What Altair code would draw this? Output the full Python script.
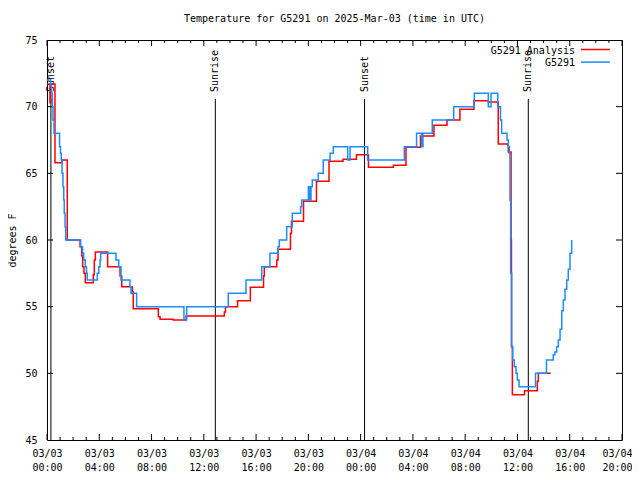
import altair as alt
import pandas as pd

# hours since 2025-03-03 00:00 UTC
blue_hours = [0.00, 0.28, 0.34, 0.41, 0.46, 0.54, 0.96, 1.03, 1.09, 1.15, 1.22, 1.28, 1.32, 1.38, 1.43,
              2.58, 2.72, 2.81, 2.93, 3.02, 3.08, 3.85, 3.96, 4.06, 4.11, 5.28, 5.49, 5.66, 6.35, 6.43,
              6.86, 10.48, 10.69, 13.87, 15.23, 16.43, 17.06, 17.68, 17.78, 18.34, 18.77, 19.41, 19.49,
              20.00, 20.10, 20.20, 20.30, 20.76, 21.14, 21.66, 21.91, 23.01, 23.19, 24.54, 27.34, 28.28,
              28.67, 28.77, 29.48, 31.12, 32.70, 33.77, 33.98, 34.49, 34.70, 34.79, 35.20, 35.30, 35.38,
              35.43, 35.48, 35.56, 35.64, 35.76, 35.89, 35.99, 36.12, 37.38, 38.22, 38.74, 38.87, 39.00,
              39.13, 39.26, 39.39, 39.51, 39.64, 39.77, 39.89, 40.02, 40.15]
blue_temps = [72.0, 71.6, 71.0, 70.0, 69.0, 68.0, 67.0, 66.5, 66.0, 65.0, 64.0, 63.0, 62.0, 61.0, 60.0,
              59.5, 59.0, 58.5, 58.0, 57.5, 57.0, 57.5, 58.0, 58.5, 59.0, 58.5, 58.0, 57.0, 56.5, 56.0,
              55.0, 54.0, 55.0, 56.0, 57.0, 58.0, 59.0, 59.5, 60.0, 61.0, 62.0, 62.5, 63.0,
              64.0, 63.0, 64.0, 64.5, 65.0, 66.0, 66.5, 67.0, 66.0, 67.0, 66.0, 67.0, 68.0,
              67.0, 68.0, 69.0, 70.0, 71.0, 70.0, 71.0, 70.0, 69.0, 68.0, 67.5, 67.0, 66.5,
              63.0, 57.5, 52.0, 51.0, 50.5, 50.0, 49.5, 49.0, 50.0, 51.0, 51.4, 51.6, 52.0,
              52.5, 53.3, 54.7, 55.5, 56.3, 57.0, 57.8, 59.0, 60.0]

red_hours = [0.00, 0.23, 0.29, 0.61, 1.15, 1.55, 2.53, 2.66, 2.73, 2.83, 2.93, 3.54, 3.62, 3.70, 4.64,
             5.59, 5.72, 6.53, 6.60, 8.52, 8.65, 9.66, 10.64, 13.57, 13.66, 14.58, 15.56, 16.57, 16.63,
             17.58, 17.68, 18.63, 18.71, 19.63, 20.62, 21.58, 22.65, 23.68, 24.60, 26.51, 27.47, 28.58,
             29.61, 30.61, 31.60, 32.67, 33.77, 34.53, 35.30, 35.51, 35.54, 35.61, 36.54, 37.52, 37.60,
             38.54]
red_temps = [71.7, 70.3, 71.7, 65.8, 66.0, 60.0, 59.5, 58.8, 58.0, 57.5, 56.8, 57.4, 58.5, 59.1, 58.0,
             57.3, 56.5, 56.1, 54.85, 54.25, 54.05, 54.0, 54.3, 54.6, 55.0, 55.45, 56.45, 57.3, 58.0,
             58.5, 59.3, 60.5, 61.4, 62.9, 64.4, 65.9, 66.05, 66.4, 65.45, 65.6, 66.95, 67.8,
             68.6, 69.0, 69.8, 70.45, 70.35, 67.2, 66.6, 60.0, 52.0, 48.4, 48.7, 49.4, 50.0,
             50.0]

sun_hours = [0.30, 12.88, 24.30, 36.83]
sun_labels = ["Sunset", "Sunrise", "Sunset", "Sunrise"]

x_major = list(range(0, 45, 4))
x_minor = [h for h in range(0, 45) if h % 4]
y_major = [45, 50, 55, 60, 65, 70, 75]

series_names = ["G5291 Analysis", "G5291"]
series_colors = ["#ff0000", "#1a8cff"]

FONT = "DejaVu Sans Mono"
W, H = 575, 400

xscale = alt.Scale(domain=[0, 44], nice=False, zero=False)
yscale = alt.Scale(domain=[45, 75], nice=False, zero=False)

x_axis = alt.Axis(
    values=x_major, title=None, ticks=False, domain=False, grid=False,
    labelExpr="[datum.value < 24 ? '03/03' : '03/04', (datum.value % 24 < 10 ? '0' : '') + (datum.value % 24) + ':00']",
    labelFont=FONT, labelFontSize=10, labelColor="black", labelPadding=8,
    labelBaseline="top", labelLineHeight=14, labelAlign="center",
    labelFlush=False, labelOverlap=False,
    labelOffset={"condition": {"test": "datum.value >= 44", "value": -5}, "value": 0},
)
y_axis = alt.Axis(
    values=y_major, title="degrees F", ticks=False, domain=False, grid=False,
    labelFont=FONT, labelFontSize=10, labelColor="black", labelPadding=10,
    titleFont=FONT, titleFontSize=10, titleFontWeight="normal", titleColor="black",
    titleX=-35, titleY=200, titleAngle=270, titleAlign="center", titleBaseline="middle",
)

X = alt.X("h:Q", scale=xscale, axis=x_axis)
Y = alt.Y("t:Q", scale=yscale, axis=y_axis)

red_df = pd.DataFrame({"h": red_hours, "t": red_temps})
blue_df = pd.DataFrame({"h": blue_hours, "t": blue_temps})
sun_df = pd.DataFrame({"h": sun_hours, "label": sun_labels})
major_df = pd.DataFrame({"h": x_major})
minor_df = pd.DataFrame({"h": x_minor})
ytick_df = pd.DataFrame({"t": y_major[1:-1]})
one = pd.DataFrame({"a": [0]})

red = alt.Chart(red_df).mark_line(interpolate="step-after", color=series_colors[0], strokeWidth=1.5).encode(x=X, y=Y)
blue = alt.Chart(blue_df).mark_line(interpolate="step-after", color=series_colors[1], strokeWidth=1.5).encode(x=X, y=Y)

sun_rule = alt.Chart(sun_df).mark_rule(color="black", strokeWidth=1).encode(x=X, y=alt.value(59), y2=alt.value(H))
sun_text = alt.Chart(sun_df).mark_text(angle=270, align="left", baseline="middle", font=FONT, fontSize=10, color="black").encode(
    x=X, y=alt.value(52), text="label:N")

tick_layers = [
    alt.Chart(major_df).mark_rule(color="black").encode(x=X, y=alt.value(H), y2=alt.value(H - 6)),
    alt.Chart(major_df).mark_rule(color="black").encode(x=X, y=alt.value(0), y2=alt.value(6)),
    alt.Chart(minor_df).mark_rule(color="black").encode(x=X, y=alt.value(H), y2=alt.value(H - 3)),
    alt.Chart(minor_df).mark_rule(color="black").encode(x=X, y=alt.value(0), y2=alt.value(3)),
    alt.Chart(ytick_df).mark_rule(color="black").encode(y=Y, x=alt.value(0), x2=alt.value(6)),
    alt.Chart(ytick_df).mark_rule(color="black").encode(y=Y, x=alt.value(W), x2=alt.value(W - 6)),
]

legend_layers = []
for i, (name, col) in enumerate(zip(series_names, series_colors)):
    yy = 10.5 + 12.6 * i
    legend_layers.append(
        alt.Chart(one).mark_text(text=name, align="right", baseline="middle", font=FONT, fontSize=10, color="black")
        .encode(x=alt.value(528), y=alt.value(yy)))
    legend_layers.append(
        alt.Chart(one).mark_rule(color=col, strokeWidth=1.5)
        .encode(x=alt.value(534), x2=alt.value(563), y=alt.value(yy - 1)))

chart = alt.layer(
    *tick_layers, sun_rule, sun_text, red, blue, *legend_layers
).properties(
    width=W, height=H,
    title=alt.TitleParams("Temperature for G5291 on 2025-Mar-03 (time in UTC)", font=FONT, fontSize=10,
                          fontWeight="normal", anchor="middle", frame="group", offset=11, color="black"),
    autosize=alt.AutoSizeParams(type="none"),
    padding={"left": 39, "top": 32, "right": 10, "bottom": 32},
    background="white",
).configure_view(stroke="black", strokeWidth=1)

chart.save("out.html", embed_options={"renderer": "svg", "actions": False})
